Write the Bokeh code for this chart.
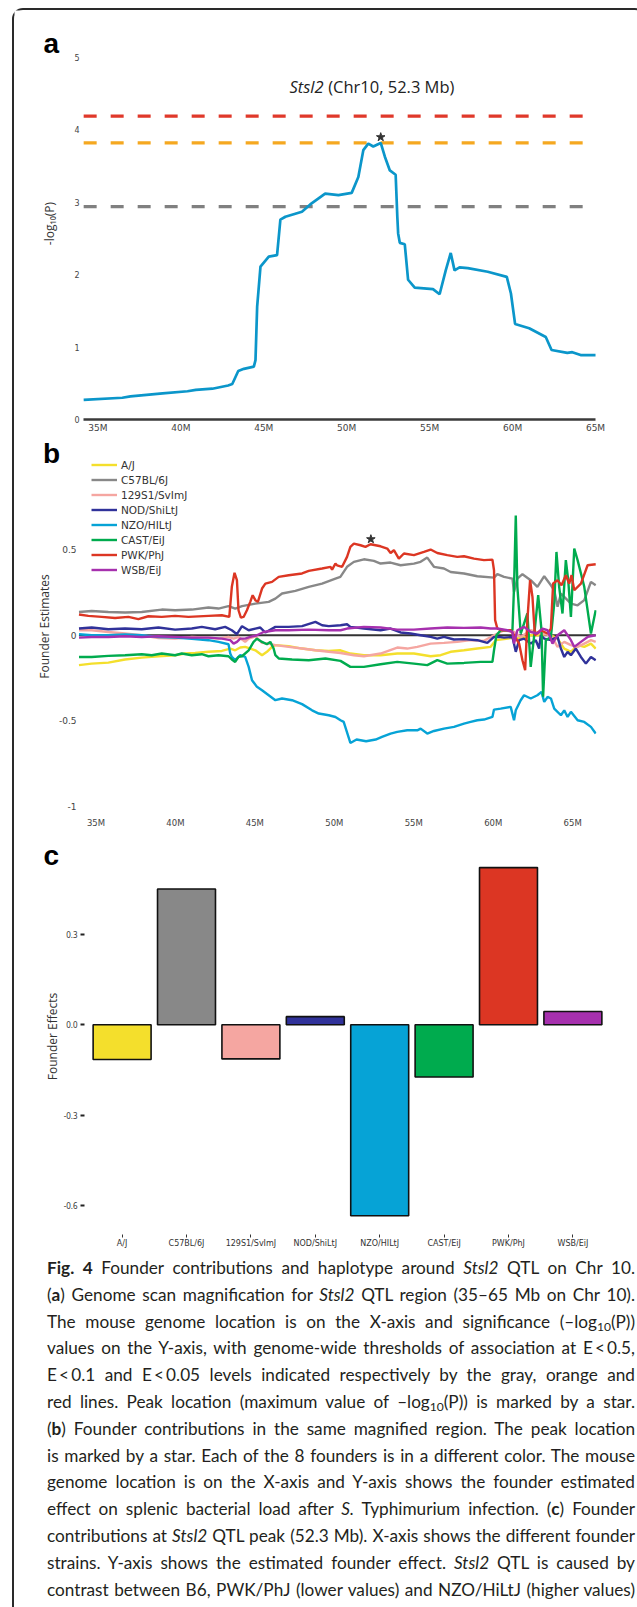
import numpy as np
from bokeh.plotting import figure
from bokeh.models import Range1d, FixedTicker, Label, Legend, LegendItem, Div, ColumnDataSource
from bokeh.layouts import column
from bokeh.embed import file_html
from bokeh.resources import INLINE

# ---------------- data ----------------
mb_ticks = [35, 40, 45, 50, 55, 60, 65]

# panel a: genome scan (-log10 P)
scan_mb = [34.14, 36.47, 36.96, 38.9, 40.4, 40.9, 41.9, 42.85, 43.1, 43.46, 43.8, 44.4, 44.5, 44.6, 44.8,
           45.3, 45.8, 46.0, 46.3, 47.3, 47.8, 48.7, 49.5, 50.3, 50.7, 51.0, 51.3, 51.6, 52.05, 52.3,
           52.6, 52.95, 53.05, 53.1, 53.2, 53.5, 53.7, 54.1, 55.2, 55.6, 55.97, 56.27, 56.5, 56.8, 57.3,
           58.5, 59.65, 59.9, 60.15, 61.0, 62.0, 62.35, 63.3, 63.6, 64.1, 65.0]
scan_lod = [0.27, 0.30, 0.32, 0.36, 0.39, 0.41, 0.425, 0.47, 0.49, 0.67, 0.70, 0.73, 0.82, 1.56, 2.11,
            2.25, 2.27, 2.76, 2.80, 2.87, 2.97, 3.12, 3.10, 3.13, 3.35, 3.72, 3.81, 3.77, 3.82, 3.63,
            3.44, 3.38, 2.80, 2.57, 2.44, 2.42, 1.93, 1.82, 1.80, 1.73, 2.06, 2.30, 2.06, 2.10, 2.09,
            2.04, 1.97, 1.74, 1.32, 1.26, 1.14, 0.96, 0.92, 0.93, 0.89, 0.89]
threshold_values = [2.94, 3.82, 4.19]
threshold_colors = ["#808080", "#F5A820", "#E0382A"]
threshold_mb = [34.14, 64.5]
peak_mb = 52.3

# panel b: founder estimates
founders = ["A/J", "C57BL/6J", "129S1/SvImJ", "NOD/ShiLtJ", "NZO/HILtJ", "CAST/EiJ", "PWK/PhJ", "WSB/EiJ"]
founder_colors = ["#F4DF2C", "#888888", "#F5A6A1", "#30329A", "#06A3D6", "#00AB4E", "#DC3623", "#A630AE"]

aj_mb = [33.93, 34.73, 35.78, 36.83, 37.88, 38.93, 39.98, 40.61, 41.24, 42.08, 42.92, 43.45, 43.76, 44.08,
         44.39, 45.03, 45.45, 45.76, 46.08, 46.29, 47.13, 47.97, 48.81, 49.65, 50.39, 51.01, 51.86, 52.91,
         53.96, 55.01, 56.06, 56.69, 57.32, 58.16, 59.00, 59.84, 60.16, 60.68, 61.31, 61.73, 62.36, 62.99,
         63.42, 64.05, 64.47, 64.89, 65.31, 65.73, 66.15, 66.45]
aj_est = [-0.175, -0.166, -0.160, -0.142, -0.131, -0.123, -0.117, -0.107, -0.103, -0.097, -0.092, -0.078,
          -0.088, -0.072, -0.068, -0.088, -0.117, -0.097, -0.068, -0.058, -0.064, -0.078, -0.088, -0.092,
          -0.088, -0.107, -0.117, -0.117, -0.107, -0.107, -0.123, -0.117, -0.097, -0.088, -0.078, -0.068,
          -0.029, -0.023, -0.014, -0.020, 0.000, 0.000, 0.010, -0.020, -0.078, -0.097, -0.058, -0.068,
          -0.049, -0.078]

b6_mb = [33.93, 34.73, 35.78, 36.83, 37.88, 39.14, 39.98, 41.03, 42.08, 42.71, 43.34, 43.76, 44.19, 45.03,
         45.87, 46.29, 46.71, 47.55, 48.39, 49.23, 50.07, 50.38, 50.80, 51.23, 51.86, 52.49, 52.91, 53.54,
         54.17, 55.01, 55.43, 55.85, 56.27, 56.90, 57.32, 58.16, 59.00, 60.05, 60.26, 60.68, 61.21, 61.31,
         61.52, 61.84, 62.36, 62.78, 63.21, 63.63, 63.84, 64.05, 64.26, 64.47, 64.89, 65.31, 65.73, 66.15,
         66.45]
b6_est = [0.136, 0.142, 0.136, 0.133, 0.136, 0.150, 0.146, 0.150, 0.162, 0.156, 0.170, 0.156, 0.170, 0.185,
          0.195, 0.214, 0.244, 0.259, 0.283, 0.302, 0.331, 0.341, 0.400, 0.429, 0.444, 0.435, 0.419, 0.425,
          0.409, 0.419, 0.429, 0.454, 0.400, 0.390, 0.370, 0.361, 0.345, 0.337, 0.357, 0.341, 0.331, 0.253,
          0.331, 0.357, 0.322, 0.283, 0.345, 0.292, 0.263, 0.166, 0.244, 0.224, 0.185, 0.175, 0.205, 0.312,
          0.292]

s129_mb = [33.93, 34.73, 35.78, 36.83, 37.88, 38.93, 39.98, 41.03, 42.08, 42.71, 43.34, 43.66, 43.97, 44.39,
           44.61, 45.03, 45.45, 45.87, 46.29, 47.13, 47.97, 48.81, 49.65, 50.39, 51.23, 51.86, 52.91, 53.96,
           54.59, 55.22, 56.06, 56.90, 57.74, 58.58, 59.42, 60.05, 60.68, 61.31, 61.73, 62.36, 62.99, 63.63,
           64.05, 64.47, 64.89, 65.31, 65.73, 66.15, 66.45]
s129_est = [0.029, 0.029, 0.019, 0.010, 0.000, -0.016, -0.020, -0.010, -0.014, -0.020, -0.010, -0.020,
            -0.010, -0.039, -0.020, -0.006, -0.045, -0.049, -0.058, -0.068, -0.078, -0.088, -0.097, -0.104,
            -0.117, -0.123, -0.107, -0.072, -0.078, -0.068, -0.049, -0.045, -0.039, -0.029, -0.033, 0.000,
            0.029, 0.019, -0.010, 0.029, 0.010, 0.000, -0.068, -0.039, -0.058, -0.068, -0.049, -0.029, -0.039]

nod_mb = [33.93, 34.73, 35.78, 36.83, 37.88, 38.93, 39.98, 41.03, 41.66, 42.50, 43.13, 43.55, 43.87, 44.19,
          44.61, 45.03, 45.34, 45.66, 46.29, 47.13, 47.97, 48.81, 49.23, 49.65, 50.39, 50.80, 51.01, 51.86,
          52.91, 53.54, 54.17, 54.80, 55.43, 56.06, 56.48, 56.90, 57.53, 58.16, 59.00, 59.63, 60.05, 60.37,
          60.68, 61.21, 61.42, 61.63, 61.94, 62.36, 62.68, 62.89, 62.99, 63.21, 63.63, 64.05, 64.26, 64.47,
          64.68, 64.89, 65.20, 65.52, 65.83, 66.15, 66.45]
nod_est = [0.039, 0.045, 0.035, 0.039, 0.035, 0.045, 0.033, 0.039, 0.049, 0.035, 0.049, 0.029, 0.006, 0.053,
           0.029, 0.039, 0.045, 0.016, 0.049, 0.049, 0.053, 0.078, 0.058, 0.053, 0.058, 0.064, 0.049, 0.039,
           0.029, 0.039, 0.016, 0.010, 0.000, -0.010, -0.020, -0.010, -0.025, -0.023, -0.029, -0.045, -0.010,
           -0.010, -0.014, -0.010, -0.097, -0.029, -0.020, -0.049, -0.029, -0.078, 0.000, -0.020, -0.029,
           -0.010, -0.078, -0.127, -0.097, -0.117, -0.078, -0.127, -0.166, -0.127, -0.146]

nzo_mb = [33.93, 34.73, 35.78, 36.83, 37.88, 38.93, 39.98, 41.03, 42.08, 42.71, 43.34, 43.45, 43.55, 43.76,
          44.08, 44.39, 44.61, 44.82, 45.13, 45.45, 45.87, 46.29, 46.71, 47.34, 47.97, 48.60, 49.02, 49.65,
          50.07, 50.39, 50.59, 51.01, 51.4, 52.0, 52.6, 53.0, 53.54, 53.96, 54.59, 55.22, 55.43, 55.85, 56.27,
          56.90, 57.53, 58.16, 58.58, 59.00, 59.42, 59.95, 60.05, 60.47, 61.10, 61.31, 61.42, 61.73, 61.94,
          62.36, 62.78, 63.04, 63.21, 63.42, 63.63, 63.84, 64.26, 64.47, 64.68, 64.89, 65.31, 65.73, 66.15,
          66.45]
nzo_est = [0.006, 0.000, 0.000, 0.004, 0.000, -0.010, -0.014, -0.021, -0.029, -0.039, -0.053, -0.107,
           -0.127, -0.146, -0.117, -0.127, -0.185, -0.263, -0.302, -0.322, -0.351, -0.380, -0.370, -0.380,
           -0.403, -0.439, -0.458, -0.468, -0.478, -0.497, -0.507, -0.630, -0.610, -0.620, -0.610, -0.595,
           -0.575, -0.565, -0.556, -0.556, -0.546, -0.575, -0.560, -0.546, -0.536, -0.517, -0.507, -0.497,
           -0.493, -0.478, -0.435, -0.429, -0.419, -0.497, -0.439, -0.380, -0.351, -0.370, -0.351, -0.331,
           -0.390, -0.361, -0.370, -0.429, -0.468, -0.439, -0.478, -0.448, -0.497, -0.507, -0.536, -0.575]

cast_mb = [33.93, 34.73, 35.78, 36.83, 37.88, 38.51, 39.14, 39.98, 40.40, 41.03, 41.66, 42.08, 42.71, 43.34,
           43.55, 43.76, 43.97, 44.19, 44.61, 44.92, 45.13, 45.45, 45.76, 45.97, 46.18, 46.29, 46.50, 47.34,
           48.39, 49.44, 50.39, 51.01, 51.86, 52.91, 53.96, 55.01, 55.85, 56.48, 57.11, 58.16, 59.21, 59.95,
           60.05, 60.20, 60.47, 61.21, 61.31, 61.42, 61.52, 61.73, 62.15, 62.36, 62.57, 62.83, 63.04, 63.14,
           63.31, 63.63, 63.84, 63.98, 64.15, 64.36, 64.57, 64.72, 64.89, 65.10, 65.31, 65.73, 66.15, 66.45]
cast_est = [-0.127, -0.127, -0.121, -0.117, -0.111, -0.117, -0.107, -0.117, -0.107, -0.117, -0.111, -0.123,
            -0.117, -0.123, -0.142, -0.156, -0.127, -0.123, -0.088, -0.039, -0.020, -0.039, -0.053, -0.039,
            -0.078, -0.117, -0.136, -0.142, -0.146, -0.136, -0.150, -0.185, -0.185, -0.170, -0.156, -0.166,
            -0.175, -0.146, -0.166, -0.162, -0.156, -0.156, -0.088, 0.000, 0.029, 0.029, 0.283, 0.700, 0.283,
            0.010, 0.127, -0.185, -0.010, 0.234, 0.029, -0.360, -0.029, -0.010, 0.185, 0.487, 0.283, 0.127,
            0.439, 0.322, 0.107, 0.507, 0.439, 0.283, 0.010, 0.146]

pwk_mb = [33.93, 34.52, 35.36, 36.20, 37.04, 37.67, 38.30, 39.14, 39.98, 40.82, 42.08, 42.92, 43.39, 43.55,
          43.72, 43.87, 43.97, 44.12, 44.29, 44.50, 44.71, 44.86, 45.03, 45.19, 45.45, 45.66, 46.08, 46.50,
          47.13, 47.97, 48.39, 49.23, 49.76, 49.86, 50.07, 50.17, 50.49, 50.80, 51.01, 51.23, 51.65, 51.96,
          52.28, 52.91, 53.33, 53.54, 53.75, 54.06, 54.38, 55.01, 55.64, 56.06, 56.48, 57.11, 57.74, 58.16,
          58.79, 59.42, 59.95, 60.05, 60.12, 60.26, 60.58, 61.10, 61.31, 61.63, 61.84, 62.01, 62.15, 62.32,
          62.47, 62.62, 62.99, 63.42, 63.63, 63.77, 64.05, 64.30, 64.57, 64.78, 64.93, 65.10, 65.52, 65.94,
          66.45]
pwk_est = [0.121, 0.113, 0.107, 0.101, 0.107, 0.094, 0.111, 0.107, 0.113, 0.107, 0.113, 0.117, 0.107, 0.283,
           0.365, 0.322, 0.146, 0.103, 0.107, 0.146, 0.195, 0.234, 0.205, 0.195, 0.273, 0.302, 0.312, 0.341,
           0.351, 0.361, 0.376, 0.390, 0.400, 0.384, 0.419, 0.409, 0.400, 0.458, 0.517, 0.536, 0.526, 0.517,
           0.532, 0.520, 0.507, 0.481, 0.497, 0.448, 0.478, 0.468, 0.487, 0.501, 0.481, 0.468, 0.458, 0.462,
           0.448, 0.439, 0.442, 0.380, 0.088, 0.039, 0.029, 0.029, 0.000, -0.049, -0.146, -0.205, 0.088,
           0.322, 0.224, 0.000, 0.029, 0.010, 0.039, 0.302, 0.322, 0.292, 0.351, 0.302, 0.351, 0.263, 0.302,
           0.409, 0.415]

wsb_mb = [33.93, 34.73, 35.78, 36.83, 37.88, 38.93, 39.98, 41.03, 42.08, 42.92, 43.45, 43.66, 43.87, 44.08,
          44.39, 44.71, 45.13, 45.55, 46.29, 47.13, 48.39, 49.65, 50.39, 50.80, 51.86, 52.91, 53.96, 55.01,
          56.06, 57.11, 58.16, 59.21, 59.84, 60.26, 60.89, 61.21, 61.31, 61.52, 61.94, 62.36, 62.78, 63.10,
          63.42, 63.73, 64.05, 64.47, 64.89, 65.10, 65.52, 65.94, 66.45]
wsb_est = [-0.014, -0.010, -0.010, -0.006, -0.010, -0.006, -0.010, -0.014, -0.014, -0.020, -0.029, -0.049,
           -0.039, -0.020, -0.020, -0.010, 0.000, 0.019, 0.029, 0.029, 0.033, 0.029, 0.029, 0.039, 0.049,
           0.045, 0.033, 0.033, 0.039, 0.045, 0.043, 0.045, 0.039, 0.039, 0.029, 0.019, -0.049, 0.029, 0.049,
           0.019, 0.010, 0.039, 0.029, -0.049, 0.000, 0.029, -0.029, -0.068, -0.039, -0.010, 0.000]

# panel c: founder effects at the peak
founder_effects = [-0.115, 0.45, -0.113, 0.027, -0.633, -0.173, 0.521, 0.044]
effect_ticks = [-0.6, -0.3, 0.0, 0.3]

SUB = '<sub style="font-size:70%;line-height:0;vertical-align:-0.28em">10</sub>'
caption_lines = [
    '<b>Fig. 4</b> Founder contributions and haplotype around <i>Stsl2</i> QTL on Chr 10.',
    '(<b>a</b>) Genome scan magnification for <i>Stsl2</i> QTL region (35&ndash;65 Mb on Chr 10).',
    f'The mouse genome location is on the X-axis and significance (&ndash;log{SUB}(P))',
    'values on the Y-axis, with genome-wide thresholds of association at E&thinsp;&lt;&thinsp;0.5,',
    'E&thinsp;&lt;&thinsp;0.1 and E&thinsp;&lt;&thinsp;0.05 levels indicated respectively by the gray, orange and',
    f'red lines. Peak location (maximum value of &ndash;log{SUB}(P)) is marked by a star.',
    '(<b>b</b>) Founder contributions in the same magnified region. The peak location',
    'is marked by a star. Each of the 8 founders is in a different color. The mouse',
    'genome location is on the X-axis and Y-axis shows the founder estimated',
    'effect on splenic bacterial load after <i>S.</i> Typhimurium infection. (<b>c</b>) Founder',
    'contributions at <i>Stsl2</i> QTL peak (52.3 Mb). X-axis shows the different founder',
    'strains. Y-axis shows the estimated founder effect. <i>Stsl2</i> QTL is caused by',
    'contrast between B6, PWK/PhJ (lower values) and NZO/HiLtJ (higher values)',
]

# ---------------- styling helpers ----------------
W = 620
TICK_FONT = "DejaVu Sans"
LABEL_FONT = "Open Sans"
LETTER_FONT = "Liberation Sans"


def clean(p):
    p.outline_line_color = None
    p.xgrid.grid_line_color = None
    p.ygrid.grid_line_color = None
    p.background_fill_color = "white"
    p.border_fill_color = "white"
    for ax in (p.xaxis, p.yaxis):
        ax.minor_tick_line_color = None
    try:
        p.frame_align = False   # keep each panel's own frame geometry inside the column
    except AttributeError:
        pass


def letter(p, x, y, t):
    p.add_layout(Label(x=x, y=y, text=t, text_font=LETTER_FONT, text_font_style="bold",
                       text_font_size="28px", text_color="black", text_baseline="middle"))


# ---------------- panel a ----------------
# frame fills the whole canvas; both axes sit at fixed data locations inside it
pa = figure(width=W, height=426, x_range=Range1d(29.97, 67.35), y_range=Range1d(-0.235, 5.649),
            output_backend="svg", toolbar_location=None,
            min_border_left=0, min_border_right=0, min_border_top=0, min_border_bottom=0)
clean(pa)
thr = ColumnDataSource(dict(x0=[threshold_mb[0]] * len(threshold_values),
                            x1=[threshold_mb[1]] * len(threshold_values),
                            y=threshold_values, color=threshold_colors))
pa.segment(x0="x0", y0="y", x1="x1", y1="y", color="color", line_width=3.3,
           line_dash="13 14", source=thr)
pa.line(scan_mb, scan_lod, color="#0B96CA", line_width=2.7)
imax = int(np.argmax(scan_lod))
pa.scatter([scan_mb[imax]], [scan_lod[imax] + 0.08], marker="star", size=9, color="#333333")

pa.xaxis.fixed_location = 0
pa.xaxis.bounds = (34.13, 65.0)
pa.xaxis.ticker = FixedTicker(ticks=mb_ticks)
pa.xaxis.major_label_overrides = {t: f"{t}M" for t in mb_ticks}
pa.xaxis.axis_line_color = "#3a3a3a"
pa.xaxis.axis_line_width = 2.5
pa.xaxis.major_tick_line_color = None
pa.xaxis.major_tick_in = 0
pa.xaxis.major_tick_out = 0
pa.xaxis.major_label_standoff = 4
pa.xaxis.major_label_text_font = TICK_FONT
pa.xaxis.major_label_text_font_size = "9px"
pa.xaxis.major_label_text_color = "#444444"

pa.yaxis.fixed_location = 34.13
pa.yaxis.ticker = FixedTicker(ticks=[0, 1, 2, 3, 4, 5])
pa.yaxis.axis_line_color = None
pa.yaxis.major_tick_line_color = None
pa.yaxis.major_tick_in = 0
pa.yaxis.major_tick_out = 0
pa.yaxis.major_label_standoff = 4
pa.yaxis.major_label_text_font = TICK_FONT
pa.yaxis.major_label_text_font_size = "8px"
pa.yaxis.major_label_text_color = "#444444"
pa.yaxis.axis_label = "-log\u2081\u2080(P)"
pa.yaxis.axis_label_text_font = LABEL_FONT
pa.yaxis.axis_label_text_font_style = "normal"
pa.yaxis.axis_label_text_font_size = "12px"
pa.yaxis.axis_label_text_color = "#333333"
pa.yaxis.axis_label_standoff = 13

letter(pa, 31.72, 5.20, "a")
pa.add_layout(Label(x=48.6, y=4.6, text="Stsl2", text_font=LABEL_FONT, text_font_style="italic",
                    text_font_size="16.5px", text_color="#222222", text_align="right", text_baseline="middle"))
pa.add_layout(Label(x=48.88, y=4.6, text="(Chr10, 52.3 Mb)", text_font=LABEL_FONT,
                    text_font_size="16.5px", text_color="#222222", text_align="left", text_baseline="middle"))

# ---------------- panel b ----------------
pb = figure(width=W, height=402, x_range=Range1d(29.872, 66.5), y_range=Range1d(-1.06, 1.162),
            output_backend="svg", toolbar_location=None,
            min_border_left=0, min_border_right=38, min_border_top=0, min_border_bottom=22)
clean(pb)
series_mb = [aj_mb, b6_mb, s129_mb, nod_mb, nzo_mb, cast_mb, pwk_mb, wsb_mb]
series_est = [aj_est, b6_est, s129_est, nod_est, nzo_est, cast_est, pwk_est, wsb_est]
x_lo = min(min(s) for s in series_mb)
x_hi = max(max(s) for s in series_mb)
pb.segment(x0=[x_lo], y0=[0], x1=[x_hi], y1=[0], line_color="#333333", line_width=2)
items = []
for name, col, xs, ys in zip(founders, founder_colors, series_mb, series_est):
    r = pb.line(xs, ys, color=col, line_width=2.4)
    items.append(LegendItem(label=name, renderers=[r]))
star_b = float(np.interp(peak_mb, pwk_mb, pwk_est)) + 0.03
pb.scatter([peak_mb], [star_b], marker="star", size=9, color="#333333")

legend = Legend(items=items, location=(77, 240), orientation="vertical",
                glyph_width=26, glyph_height=13, label_height=13, spacing=2, padding=0, margin=0,
                label_standoff=4, label_text_font=TICK_FONT, label_text_font_size="10.5px",
                label_text_color="#333333", border_line_color=None, background_fill_alpha=0)
pb.add_layout(legend, "center")

pb.xaxis.ticker = FixedTicker(ticks=mb_ticks)
pb.xaxis.major_label_overrides = {t: f"{t}M" for t in mb_ticks}
pb.xaxis.axis_line_color = None
pb.xaxis.major_tick_line_color = None
pb.xaxis.major_tick_in = 0
pb.xaxis.major_tick_out = 0
pb.xaxis.major_label_standoff = 1
pb.xaxis.major_label_text_font = TICK_FONT
pb.xaxis.major_label_text_font_size = "8.5px"
pb.xaxis.major_label_text_color = "#444444"

pb.yaxis.fixed_location = 33.9
pb.yaxis.ticker = FixedTicker(ticks=[-1, -0.5, 0, 0.5])
pb.yaxis.major_label_overrides = {-1: "-1", -0.5: "-0.5", 0: "0", 0.5: "0.5"}
pb.yaxis.axis_line_color = None
pb.yaxis.major_tick_line_color = None
pb.yaxis.major_tick_in = 0
pb.yaxis.major_tick_out = 0
pb.yaxis.major_label_standoff = 2
pb.yaxis.major_label_text_font = TICK_FONT
pb.yaxis.major_label_text_font_size = "9px"
pb.yaxis.major_label_text_color = "#444444"
pb.yaxis.axis_label = "Founder Estimates"
pb.yaxis.axis_label_text_font = LABEL_FONT
pb.yaxis.axis_label_text_font_style = "normal"
pb.yaxis.axis_label_text_font_size = "12px"
pb.yaxis.axis_label_text_color = "#333333"
pb.yaxis.axis_label_standoff = 3

letter(pb, 31.66, 1.064, "b")

# ---------------- panel c ----------------
bar_x = [i + 0.5 for i in range(len(founders))]
pc = figure(width=W, height=412, x_range=Range1d(-1.171, len(founders) + 0.084),
            y_range=Range1d(-0.695, 0.6175),
            output_backend="svg", toolbar_location=None,
            min_border_left=0, min_border_right=24, min_border_top=0, min_border_bottom=16)
clean(pc)
bars = ColumnDataSource(dict(x=bar_x, top=founder_effects, color=founder_colors))
pc.vbar(x="x", top="top", bottom=0, width=0.9, fill_color="color", line_color="#111111",
        line_width=1.6, source=bars)

pc.xaxis.ticker = FixedTicker(ticks=bar_x)
pc.xaxis.major_label_overrides = {x: n for x, n in zip(bar_x, founders)}
pc.xaxis.axis_line_color = None
pc.xaxis.major_tick_in = 0
pc.xaxis.major_tick_out = 3
pc.xaxis.major_tick_line_color = "#333333"
pc.xaxis.major_label_standoff = 1
pc.xaxis.major_label_text_font = TICK_FONT
pc.xaxis.major_label_text_font_size = "8px"
pc.xaxis.major_label_text_color = "#333333"

pc.yaxis.fixed_location = -0.084
pc.yaxis.ticker = FixedTicker(ticks=effect_ticks)
pc.yaxis.major_label_overrides = {-0.6: "-0.6", -0.3: "-0.3", 0.0: "0.0", 0.3: "0.3"}
pc.yaxis.axis_line_color = None
pc.yaxis.major_tick_in = 0
pc.yaxis.major_tick_out = 4
pc.yaxis.major_tick_line_width = 2
pc.yaxis.major_tick_line_color = "#222222"
pc.yaxis.major_label_standoff = 3
pc.yaxis.major_label_text_font = "Noto Sans"
pc.yaxis.major_label_text_font_size = "8px"
pc.yaxis.major_label_text_color = "#333333"
pc.yaxis.axis_label = "Founder Effects"
pc.yaxis.axis_label_text_font = LABEL_FONT
pc.yaxis.axis_label_text_font_style = "normal"
pc.yaxis.axis_label_text_font_size = "12px"
pc.yaxis.axis_label_text_color = "#333333"
pc.yaxis.axis_label_standoff = 0

letter(pc, -0.72, 0.56, "c")

# ---------------- caption ----------------
line_style = "white-space:nowrap;text-align:justify;text-align-last:justify;"
cap_html = ('<div style="margin-left:28px;width:588px;font-family:Lato;font-size:17.2px;'
            'line-height:26.8px;color:#231f20;">'
            + "".join(f'<div style="{line_style}">{ln}</div>' for ln in caption_lines)
            + '</div>')
cap = Div(text=cap_html, width=W, height=349)

layout = column(pa, pb, pc, cap, spacing=0,
                styles={"border": "2px solid #2a2a2a", "border-bottom": "none",
                        "border-radius": "11px 11px 0 0", "margin-left": "12px", "margin-top": "8px",
                        "background-color": "white"})

open("out.html", "w").write(file_html(layout, INLINE))
